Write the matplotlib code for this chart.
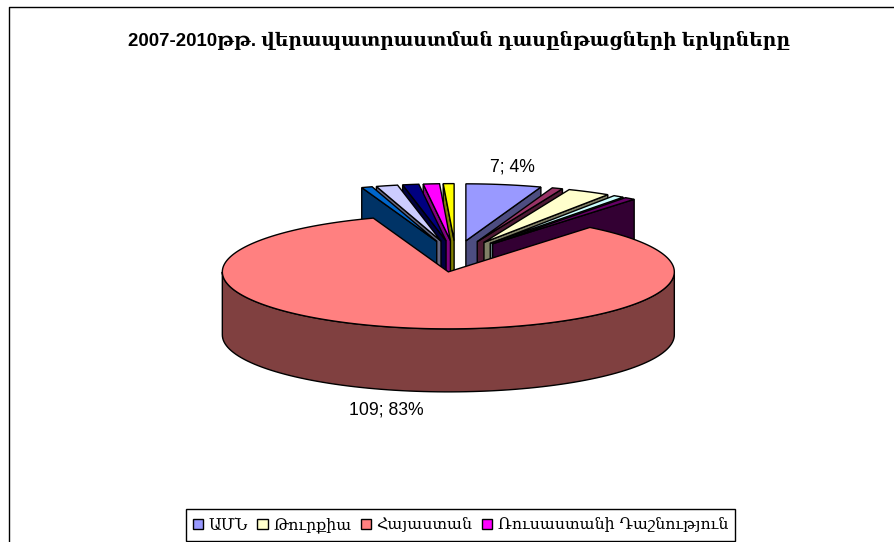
import numpy as np
import matplotlib
matplotlib.use("Agg")
import matplotlib.pyplot as plt
from matplotlib.patches import Polygon
from matplotlib.lines import Line2D

title = "2007-2010թթ. վերապատրաստման դասընթացների երկրները"
categories = ["ԱՄՆ", "", "Թուրքիա", "", "", "Հայաստան", "", "", "", "Ռուսաստանի Դաշնություն", ""]
values = [7, 1, 4, 1, 1, 109, 1, 2, 1.5, 1.5, 1]
colors = ["#9999FF", "#993366", "#FFFFCC", "#CCFFFF", "#660066", "#FF8080",
          "#0066CC", "#CCCCFF", "#000080", "#FF00FF", "#FFFF00"]
data_labels = {0: "7; 4%", 5: "109; 83%"}

W, H = 895, 542
fig = plt.figure(figsize=(W / 100, H / 100), dpi=100, facecolor="white")
ax = fig.add_axes([0, 0, 1, 1])
RX, RY, CX, CY = 226.0, 57.0, 455.6, 256.0
ax.set_xlim(-CX / RX, (W - CX) / RX)
ax.set_ylim(-(H - CY) / RY, CY / RY)
ax.axis("off")

EXPLODE = 0.27
DEPTH = 63 / RY
MAIN_NUDGE = (3.0 / RX, -0.7 / RY)
main = int(np.argmax(values))

frac = np.array(values, float) / sum(values) * 2 * np.pi
starts = np.concatenate([[0], np.cumsum(frac)[:-1]])
ends = starts + frac


def darker(c):
    r, g, b = matplotlib.colors.to_rgb(c)
    return (r * .5, g * .5, b * .5)


def geom(i):
    mid = (starts[i] + ends[i]) / 2
    ox, oy = EXPLODE * np.sin(mid), EXPLODE * np.cos(mid)
    if i == main:
        ox, oy = ox + MAIN_NUDGE[0], oy + MAIN_NUDGE[1]
    t = np.linspace(starts[i], ends[i], max(3, int(frac[i] * 40)))
    return ox, oy, t


kw = dict(edgecolor="black", linewidth=1.0, joinstyle="miter")
handles = {}


def draw(i, z):
    ox, oy, t = geom(i)
    apex = (ox, oy)
    arc = np.c_[ox + np.sin(t), oy + np.cos(t)]
    col = colors[i]
    if i == main:
        tw = np.linspace(np.pi / 2, 3 * np.pi / 2, 100)
        top_ = np.c_[ox + np.sin(tw), oy + np.cos(tw)]
        bot_ = top_ - [0, DEPTH]
        ax.add_patch(Polygon(np.r_[top_, bot_[::-1]], facecolor=darker(col), zorder=z, **kw))
    else:
        edge = arc[-1] if starts[i] < np.pi else arc[0]
        q = np.array([apex, edge, edge - [0, DEPTH], np.array(apex) - [0, DEPTH]])
        ax.add_patch(Polygon(q, facecolor=darker(col), zorder=z, **kw))
    p = Polygon(np.r_[[apex], arc], facecolor=col, zorder=z + 0.5, **kw)
    ax.add_patch(p)
    handles[i] = p


order = [i for i in range(main)] + [i for i in range(len(values) - 1, main, -1)] + [main]
for z, i in enumerate(order):
    draw(i, z + 2)

lab_font = ["Liberation Sans", "DejaVu Sans"]
ax.text((512 - CX) / RX, (CY - 167) / RY, data_labels[0], ha="center", va="center",
        fontsize=12.7, family=lab_font, color="black")
ax.text((386.5 - CX) / RX, (CY - 410) / RY, data_labels[5], ha="center", va="center",
        fontsize=12.7, family=lab_font, color="black")

fig.text(459 / W, 1 - 40 / H, title, ha="center", va="center", fontsize=13.4,
         fontweight="bold", family=["Liberation Sans", "DejaVu Serif"], color="black")

fig.add_artist(Line2D([8.5 / W, 8.5 / W, 1], [0, 1 - 6.5 / H, 1 - 6.5 / H], color="black", lw=1.0))

leg_idx = [i for i, c in enumerate(categories) if c]
leg = ax.legend([handles[i] for i in leg_idx], [categories[i] for i in leg_idx],
                loc="center", bbox_to_anchor=(460.5 / W, 1 - 525 / H), bbox_transform=fig.transFigure,
                ncol=4, frameon=True, fancybox=False, edgecolor="black", framealpha=1,
                handlelength=0.65, handleheight=0.65, handletextpad=0.35, columnspacing=0.6,
                borderpad=0.45, borderaxespad=0,
                prop={"family": ["DejaVu Serif"], "size": 11.3})
leg.get_frame().set_linewidth(1.0)
leg.set_zorder(50)

fig.savefig("out.png", dpi=100, facecolor="white")
